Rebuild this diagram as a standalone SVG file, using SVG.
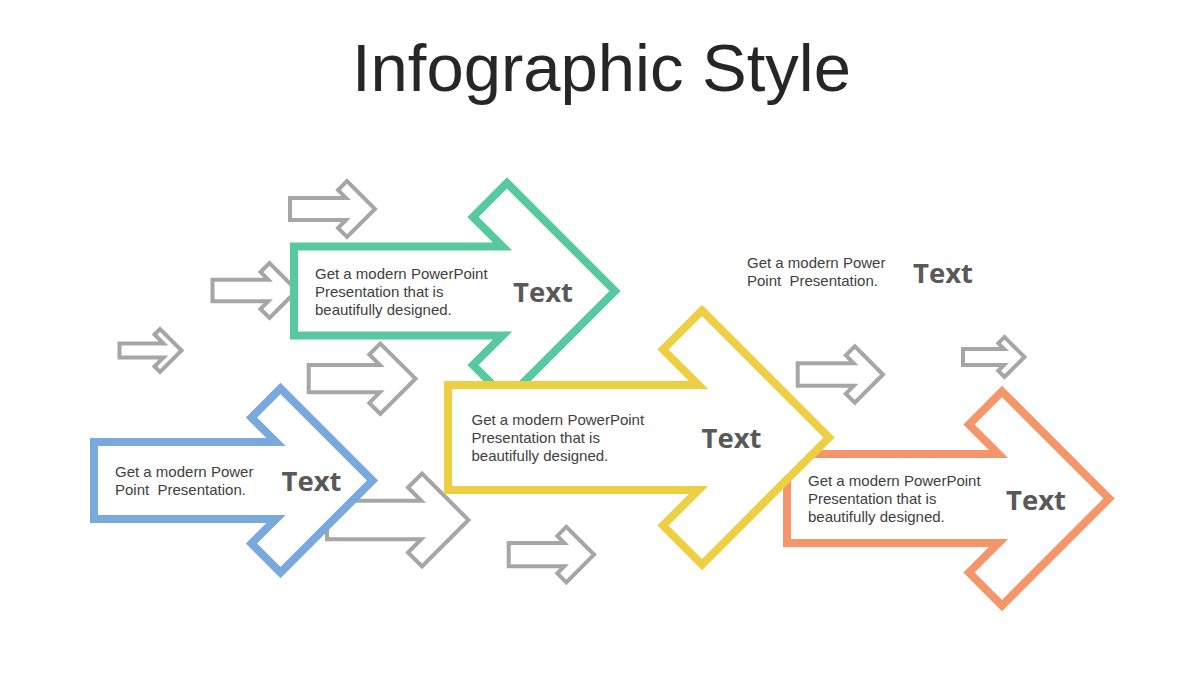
<svg xmlns="http://www.w3.org/2000/svg" width="1200" height="675" viewBox="0 0 1200 675">
<style>
.arw{fill:#FFFFFF;stroke-linejoin:miter;stroke-miterlimit:10}
.big{stroke-width:8}
.gray{stroke:#A6A6A6;stroke-width:4}
.green{stroke:#57C9A0}
.yellow{stroke:#EDCF43}
.blue{stroke:#7AA9DD}
.orange{stroke:#F4956A}
.body{font-family:"Liberation Sans",Arial,sans-serif;font-size:15px;fill:#404040}
.lbl{font-family:"Open Sans","Liberation Sans",sans-serif;font-weight:700;font-size:27.5px;fill:#595959}
.title{font-family:"Liberation Sans",Arial,sans-serif;font-size:67px;fill:#262626}
</style>
<rect width="1200" height="675" fill="#FFFFFF"/>
<text class="title" x="601.5" y="91" text-anchor="middle">Infographic Style</text>

<g id="decor-arrows">
  <g id="g1"><polygon class="arw gray" points="290,198 346,198 338,190 347,181 375,209 347,237 338,228 346,220 290,220"/></g>
  <g id="g2"><polygon class="arw gray" points="212.5,279.7 268.2,279.7 260.5,272 269.5,263 297,290.5 269.5,318 260.5,309 268.2,301.3 212.5,301.3"/></g>
  <g id="g3"><polygon class="arw gray" points="119.5,343.5 163.5,343.5 154.5,334.5 160,329 181.5,350.5 160,372 154.5,366.5 163.5,357.5 119.5,357.5"/></g>
  <g id="g4"><polygon class="arw gray" points="308.7,365.1 379.9,365.1 369.3,354.5 380.3,343.5 415.5,378.7 380.3,413.9 369.3,402.9 379.9,392.3 308.7,392.3"/></g>
  <g id="g5"><polygon class="arw gray" points="327,500.8 421.3,500.8 408,487.5 422,473.5 468.5,520 422,566.5 408,552.5 421.3,539.2 327,539.2"/></g>
  <g id="g6"><polygon class="arw gray" points="508.7,542.9 564.3,542.9 557.3,535.9 566.3,526.9 594,554.6 566.3,582.3 557.3,573.3 564.3,566.3 508.7,566.3"/></g>
  <g id="g7"><polygon class="arw gray" points="797.7,363.2 853.7,363.2 845.8,355.3 854.8,346.3 883,374.5 854.8,402.7 845.8,393.7 853.7,385.8 797.7,385.8"/></g>
  <g id="g8"><polygon class="arw gray" points="963,349 1004.1,349 998.3,343.2 1004.5,337 1024.5,357 1004.5,377 998.3,370.8 1004.1,365 963,365"/></g>
</g>

<g id="node-orange">
  <polygon class="arw big orange" points="787,454 998.5,454 969,424.5 1002,391.5 1109,498.5 1002,605.5 969,572.5 998.5,543 787,543"/>
  <text class="body" x="808" y="486">Get a modern PowerPoint</text>
  <text class="body" x="808" y="504">Presentation that is</text>
  <text class="body" x="808" y="522">beautifully designed.</text>
  <text class="lbl" x="1006" y="510">Text</text>
</g>

<g id="node-green">
  <polygon class="arw big green" points="294,246.5 502.5,246.5 473,217 507,183 615,291 507,399 473,365 502.5,335.5 294,335.5"/>
  <text class="body" x="315" y="279">Get a modern PowerPoint</text>
  <text class="body" x="315" y="297">Presentation that is</text>
  <text class="body" x="315" y="315">beautifully designed.</text>
  <text class="lbl" x="513" y="302">Text</text>
</g>

<g id="node-yellow">
  <polygon class="arw big yellow" points="448,385 698.5,385 663,349.5 702,310.5 829,437.5 702,564.5 663,525.5 698.5,490 448,490"/>
  <text class="body" x="471.5" y="424.5">Get a modern PowerPoint</text>
  <text class="body" x="471.5" y="442.5">Presentation that is</text>
  <text class="body" x="471.5" y="460.5">beautifully designed.</text>
  <text class="lbl" x="701.5" y="447.5">Text</text>
</g>

<g id="node-blue">
  <polygon class="arw big blue" points="94,442 276,442 251.5,417.5 280.5,388.5 372.5,480.5 280.5,572.5 251.5,543.5 276,519 94,519"/>
  <text class="body" x="115" y="477">Get a modern Power</text>
  <text class="body" x="115" y="495" xml:space="preserve">Point  Presentation.</text>
  <text class="lbl" x="281.5" y="491">Text</text>
</g>

<g id="node-note">
  <text class="body" x="747" y="267.5">Get a modern Power</text>
  <text class="body" x="747" y="285.5" xml:space="preserve">Point  Presentation.</text>
  <text class="lbl" x="913" y="282.5">Text</text>
</g>
</svg>
